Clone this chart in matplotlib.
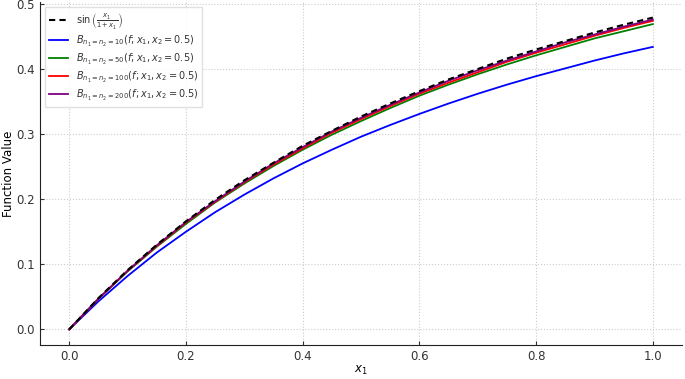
# Bernstein approximations of sin(x1/(1+x1))

import numpy as np
import matplotlib.pyplot as plt

x1 = [0.0, 0.05, 0.1, 0.15, 0.2, 0.25, 0.3, 0.35, 0.4, 0.45, 0.5,
      0.55, 0.6, 0.65, 0.7, 0.75, 0.8, 0.85, 0.9, 0.95, 1.0]

f_true = [0.0, 0.048, 0.091, 0.130, 0.166, 0.199, 0.229, 0.256, 0.282, 0.305, 0.327,
          0.347, 0.366, 0.384, 0.400, 0.416, 0.430, 0.443, 0.456, 0.468, 0.479]
b_10 = [0.0, 0.043, 0.082, 0.118, 0.150, 0.180, 0.207, 0.232, 0.255, 0.276, 0.296,
        0.314, 0.331, 0.347, 0.362, 0.376, 0.389, 0.401, 0.413, 0.424, 0.434]
b_50 = [0.0, 0.047, 0.089, 0.127, 0.162, 0.195, 0.224, 0.251, 0.276, 0.299, 0.320,
        0.340, 0.359, 0.376, 0.392, 0.407, 0.421, 0.434, 0.447, 0.458, 0.469]
b_100 = [0.0, 0.047, 0.090, 0.128, 0.164, 0.196, 0.226, 0.253, 0.278, 0.302, 0.323,
         0.343, 0.362, 0.379, 0.395, 0.411, 0.425, 0.438, 0.451, 0.463, 0.474]
b_200 = [0.0, 0.047, 0.090, 0.129, 0.165, 0.197, 0.227, 0.255, 0.280, 0.304, 0.325,
         0.345, 0.364, 0.382, 0.398, 0.413, 0.427, 0.441, 0.453, 0.465, 0.476]

labels = [r'$\sin\left(\frac{x_1}{1+x_1}\right)$',
          r'$B_{n_1=n_2=10}(f; x_1, x_2=0.5)$',
          r'$B_{n_1=n_2=50}(f; x_1, x_2=0.5)$',
          r'$B_{n_1=n_2=100}(f; x_1, x_2=0.5)$',
          r'$B_{n_1=n_2=200}(f; x_1, x_2=0.5)$']

plt.rcParams['font.size'] = 7.5
plt.rcParams['axes.edgecolor'] = '#222222'
plt.rcParams['text.color'] = '#333333'
plt.rcParams['xtick.color'] = '#333333'
plt.rcParams['ytick.color'] = '#333333'

fig = plt.figure(figsize=(6.85, 3.79), dpi=100)
ax = fig.add_axes([40 / 685, 34 / 379, 642 / 685, 343 / 379])

ax.plot(x1, b_10, color='blue', lw=1.3, label=labels[1])
ax.plot(x1, b_50, color='green', lw=1.3, label=labels[2])
ax.plot(x1, b_100, color='red', lw=1.3, label=labels[3])
ax.plot(x1, b_200, color='purple', lw=1.3, label=labels[4])
ax.plot(x1, f_true, 'k--', lw=1.5, dashes=(3, 2), label=labels[0])

# legend order as in the reference: true function first
h, l = ax.get_legend_handles_labels()
order = [4, 0, 1, 2, 3]
ax.legend([h[i] for i in order], [l[i] for i in order], loc='upper left',
          fontsize=7, framealpha=0.9, edgecolor='#dddddd', fancybox=False,
          labelspacing=0.3)

ax.set_xlabel(r'$x_1$', fontsize=8.5, labelpad=1)
ax.set_ylabel('Function Value', fontsize=8.5, labelpad=1)
ax.set_xticks(np.arange(0, 1.01, 0.2))
ax.set_yticks(np.arange(0, 0.51, 0.1))
ax.tick_params(direction='in', length=3, labelsize=8.5)
ax.grid(linestyle=':', color='#cccccc', lw=0.8)
ax.spines['top'].set_visible(False)
ax.spines['right'].set_visible(False)

plt.savefig('out.png', dpi=100)
